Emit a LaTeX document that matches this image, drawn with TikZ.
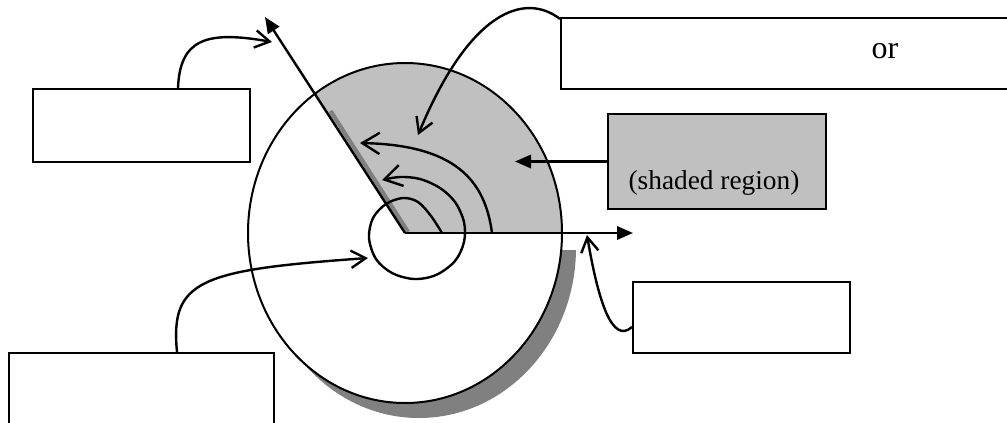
\documentclass[tikz,border=0pt]{standalone}
\usepackage{fontspec}
\setmainfont{Liberation Serif}
\usetikzlibrary{arrows.meta,calc}
\definecolor{shadelight}{HTML}{C0C0C0}
\definecolor{shadedark}{HTML}{808080}
\begin{document}
\begin{tikzpicture}[x=0.75pt,y=-0.75pt,
  box/.style={draw=black,line width=1.6pt,fill=white,inner sep=0pt},
  conn/.style={line width=1.8pt,-{Straight Barb[length=11pt,width=13pt]}},
  flow/.style={line width=1.8pt,-{Straight Barb[length=13pt,width=16pt]}},
  solidarrow/.style={line width=1.8pt,-{Triangle[length=12pt,width=10pt]}},
  label/.style={inner sep=0pt}
]
\useasboundingbox (0,0) rectangle (1007,422);
\coordinate (c) at (405,233);
\coordinate (wtip) at (265,17);
\coordinate (htip) at (633,233);
% shadow of the disk
\begin{scope}
  \clip (300,250) rectangle (650,450);
  \fill[shadedark] (419,248) ellipse [x radius=157,y radius=170];
\end{scope}
% disk
\fill[white] (c) ellipse [x radius=157,y radius=170];
\begin{scope}
  \clip (c) ellipse [x radius=157,y radius=170];
  \fill[shadelight] (c) -- (700,233) -- (700,-300) -- ($(c)!3!(wtip)$) -- cycle;
  \draw[shadedark,line width=3.2pt] (330.5,111) -- (408,232);
\end{scope}
\draw[line width=1.5pt] (c) ellipse [x radius=157,y radius=170];
% radial lines
\draw[solidarrow] (c) -- (wtip);
\draw[solidarrow] (c) -- (htip);
% flow arrows
\coordinate (f1s) at (492,233);
\coordinate (f1e) at (360,143);
\draw[flow] (f1s) .. controls (485,180) and (455,145) .. (f1e);
\draw[flow] plot[smooth,tension=0.55] coordinates {(442,233) (431,216) (418,202) (403,198) (386,204) (373,218) (369,238) (376,259) (392,273) (414,279) (436,275) (455,261) (464,242) (464,222) (455,202) (440,188) (420,179) (400,177) (382,180)};
% boxes
\node[box,minimum width=162.75pt,minimum height=54.75pt] (tlb) at (141.5,125.5) {};
\node[box,minimum width=338.25pt,minimum height=53.25pt] (trb) at (786.5,53.5) {};
\node[box,fill=shadelight,minimum width=163.5pt,minimum height=71.25pt] (sb) at (717,161.5) {};
\node[box,minimum width=162.75pt,minimum height=53.25pt] (brb) at (741.5,317.5) {};
\node[box,minimum width=198.75pt,minimum height=67.5pt] (blb) at (141.5,398) {};
% texts
\node[label,font=\fontsize{24}{28}\selectfont] (ortext) at (885,51) {or};
\node[label,font=\fontsize{20.5}{24}\selectfont] (shtext) at (714,183) {(shaded region)};
% connectors
\coordinate (tlt) at (272,42);
\coordinate (trt) at (418,135);
\coordinate (sbt) at (515,161.5);
\coordinate (brt) at (587,235);
\coordinate (blt) at (368,258);
\draw[conn] ($(tlb.north)+(36.5,0)$) .. controls (180,40) and (205,30) .. (tlt);
\draw[conn] ($(trb.north west)+(0,2)$) .. controls (525,-8) and (470,10) .. (trt);
\draw[solidarrow] (sb.west) -- (sbt);
\draw[conn] ($(brb.west)+(0,9.5)$) .. controls (612,345) and (598,300) .. (brt);
\draw[conn] ($(blb.north)+(35.5,0)$) .. controls (170,280) and (200,270) .. (blt);
\end{tikzpicture}
\end{document}
